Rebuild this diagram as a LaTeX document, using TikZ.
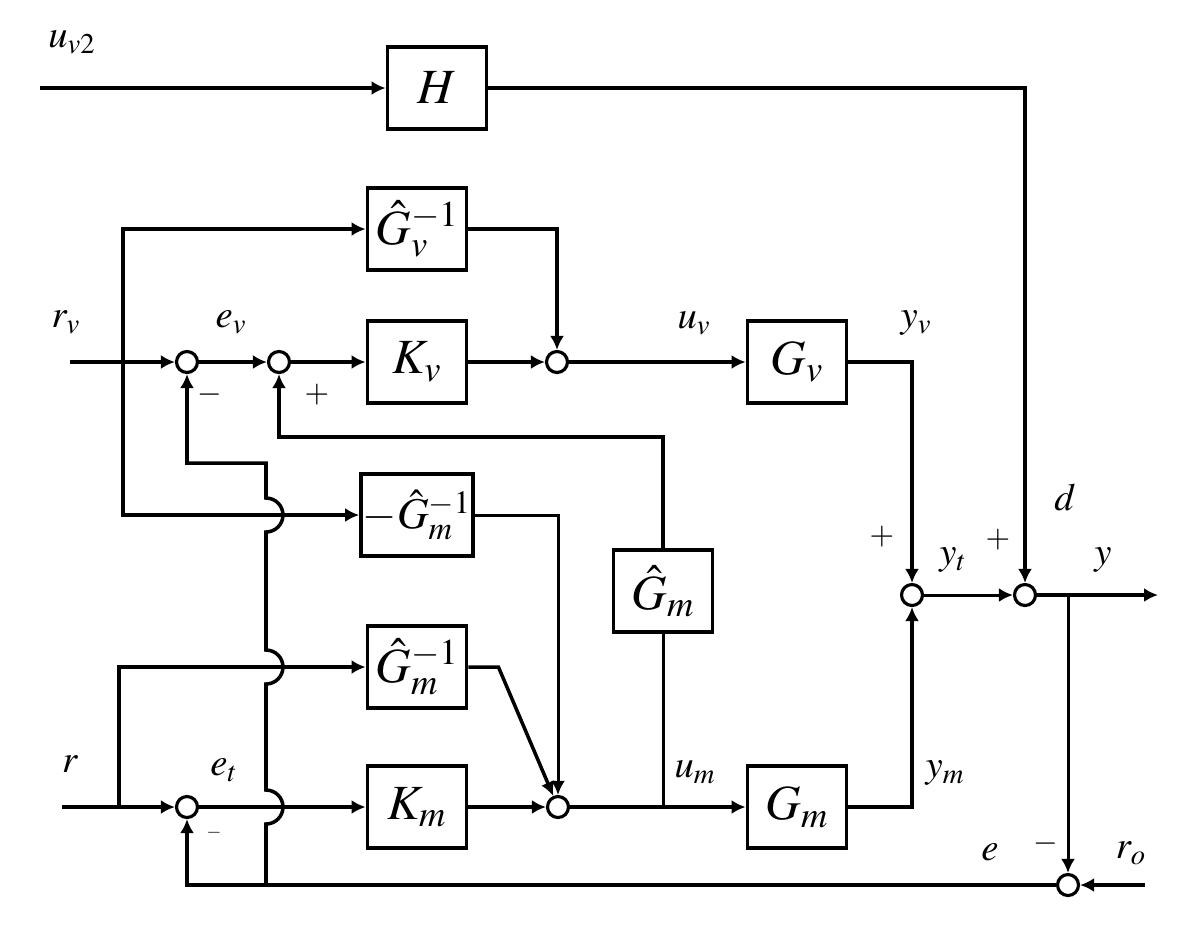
\documentclass[tikz,border=0pt]{standalone}
\usepackage{mathptmx}
\usetikzlibrary{arrows.meta, calc}
\tikzstyle{block} = [rectangle, minimum width=1.98cm, minimum height=1.64cm, inner sep=1pt, text centered, draw=black, line width=2.2pt, font=\fontsize{28}{32}\selectfont]
\tikzstyle{sum} = [circle, minimum size=0.42cm, inner sep=0pt, draw=black, line width=1.8pt]
\tikzstyle{lbl} = [font=\fontsize{22}{26}\selectfont, inner sep=0pt]
\tikzstyle{sgn} = [font=\fontsize{18}{20}\selectfont, inner sep=0pt]
\tikzstyle{arrow} = [->, >={Latex[length=2.8mm, width=2.8mm]}, line width=2pt]
\tikzstyle{line} = [line width=2pt]
\tikzstyle{thin} = [line width=1.7pt]

\begin{document}
\begin{tikzpicture}[x=0.02cm, y=-0.02cm]
  \useasboundingbox (0,0) rectangle (1196,938);
  %blocks
  \node (H) [block] at (437,88) {$H$};
  \node (Gvi) [block] at (417,229) {$\hat{G}_v^{-1}$};
  \node (Kv) [block] at (417,362) {$K_v$};
  \node (Gv) [block] at (797,362) {$G_v$};
  \node (Gmn) [block, font=\fontsize{25}{30}\selectfont] at (417,515) {$-\hat{G}_m^{-1}$};
  \node (Gmh) [block] at (663,591) {$\hat{G}_m$};
  \node (Gmi) [block] at (417,667) {$\hat{G}_m^{-1}$};
  \node (Km) [block] at (417,807) {$K_m$};
  \node (Gm) [block] at (797,807) {$G_m$};

  %summing points
  \node (sV1) [sum] at (187,362) {};
  \node (sV2) [sum] at (279,362) {};
  \node (sV3) [sum] at (557,362) {};
  \node (sM1) [sum] at (187,807) {};
  \node (sM3) [sum] at (558,807) {};
  \node (sT) [sum] at (912,595) {};
  \node (sD) [sum] at (1025,595) {};
  \node (sE) [sum] at (1068,885) {};

  %free ends and branch points
  \coordinate (uv2) at (40,88);
  \coordinate (rv) at (70,362);
  \coordinate (brv) at (123,362);
  \coordinate (r) at (62,807);
  \coordinate (brr) at (119,807);
  \coordinate (fbj) at (266,885);
  \coordinate (fbt) at (266,463);
  \coordinate (fbv) at (663,437);
  \coordinate (um) at (663,807);
  \coordinate (ybr) at (1068,595);
  \coordinate (yout) at (1158,595);
  \coordinate (ro) at (1145,885);

  %signals
  \node (luv2) [lbl] at (72,42) {$u_{v2}$};
  \node (lrv) [lbl] at (66,322) {$r_v$};
  \node (lev) [lbl] at (231,322) {$e_v$};
  \node (luv) [lbl] at (694,323) {$u_v$};
  \node (lyv) [lbl] at (916,323) {$y_v$};
  \node (lr) [lbl] at (70,764) {$r$};
  \node (let) [lbl] at (224,770) {$e_t$};
  \node (lum) [lbl] at (695,772) {$u_m$};
  \node (lym) [lbl] at (945,773) {$y_m$};
  \node (lyt) [lbl] at (953,560) {$y_t$};
  \node (ld) [lbl] at (1065,497) {$d$};
  \node (ly) [lbl] at (1103,560) {$y$};
  \node (le) [lbl] at (990,852) {$e$};
  \node (lro) [lbl] at (1131,853) {$r_o$};
  \node (m1) [sgn] at (210,395) {$-$};
  \node (p1) [sgn] at (317,395) {$+$};
  \node (m2) [sgn, scale=0.6] at (214,833) {$-$};
  \node (p2) [sgn] at (882,537) {$+$};
  \node (p3) [sgn] at (998,540) {$+$};
  \node (m3) [sgn] at (1046,844) {$-$};

  %upper loop
  \draw [arrow] (uv2) -- (H);
  \draw [arrow] (H.east) -| (sD);
  \draw [arrow] (rv) -- (sV1);
  \draw [arrow] (sV1) -- (sV2);
  \draw [arrow] (sV2) -- (Kv);
  \draw [arrow] (Kv) -- (sV3);
  \draw [arrow] (sV3) -- (Gv);
  \draw [arrow] (brv) |- (Gvi);
  \draw [arrow] (brv) |- (Gmn);
  \draw [arrow] (Gvi.east) -| (sV3);
  \draw [arrow] (Gv.east) -| (sT);

  %lower loop
  \draw [arrow] (r) -- (sM1);
  \draw [arrow] (sM1) -- (Km);
  \draw [arrow] (Km) -- (sM3);
  \draw [arrow] (sM3) -- (Gm);
  \draw [arrow] (brr) |- (Gmi);
  \draw [arrow, thin] (Gmn.east) -| (sM3);
  \draw [arrow] (Gmi.east) -- ++(30,0) -- (sM3);
  \draw [arrow] (Gm.east) -| (sT);
  \draw [thin] (um) -- (Gmh.south);
  \draw [arrow] (Gmh.north) -- (fbv) -| (sV2);

  %output and feedback
  \draw [arrow, thin] (sT) -- (sD);
  \draw [arrow] (sD) -- (yout);
  \draw [arrow, thin] (ybr) -- (sE);
  \draw [arrow] (ro) -- (sE);
  \draw [arrow] (sE) -| (sM1);
  \draw [arrow] (fbj) -- ($(fbj |- sM1)+(0,17)$) arc[start angle=-90, end angle=90, radius=0.34cm]
    -- ($(fbj |- Gmi)+(0,17)$) arc[start angle=-90, end angle=90, radius=0.34cm]
    -- ($(fbj |- Gmn)+(0,17)$) arc[start angle=-90, end angle=90, radius=0.34cm]
    -- (fbt) -| (sV1);
\end{tikzpicture}
\end{document}
